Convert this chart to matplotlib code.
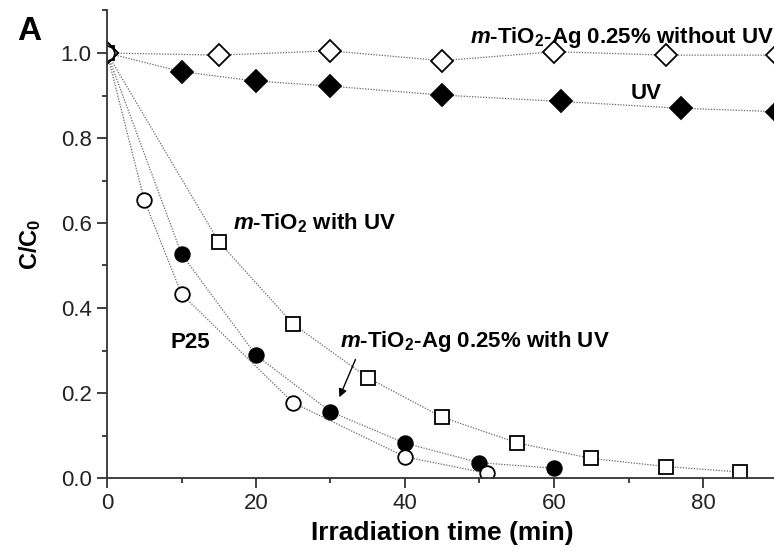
import numpy as np
import matplotlib
matplotlib.use("Agg")
import matplotlib.pyplot as plt
from matplotlib.ticker import MultipleLocator

plt.rcParams['font.family'] = ['Liberation Sans', 'DejaVu Sans']
plt.rcParams['mathtext.fontset'] = 'custom'
plt.rcParams['mathtext.rm'] = 'Liberation Sans:bold'
plt.rcParams['mathtext.it'] = 'Liberation Sans:bold:italic'
plt.rcParams['mathtext.bf'] = 'Liberation Sans:bold'

# dati letti dal grafico
# m-TiO2-Ag 0.25% senza UV (rombi vuoti)
t_dark = [0, 15, 30, 45, 60, 75, 90]
c_dark = [1.0, 0.995, 1.005, 0.982, 1.003, 0.995, 0.995]

# solo UV (rombi pieni)
t_uv = [0, 10, 20, 30, 45, 61, 77, 90]
c_uv = [1.0, 0.956, 0.934, 0.922, 0.901, 0.886, 0.870, 0.862]

# m-TiO2 con UV (quadrati)
t_mtio2 = [0, 15, 25, 35, 45, 55, 65, 75, 85]
c_mtio2 = [1.0, 0.556, 0.362, 0.236, 0.143, 0.083, 0.046, 0.027, 0.014]

# m-TiO2-Ag 0.25% con UV (cerchi pieni)
t_ag = [0, 10, 20, 30, 40, 50, 60]
c_ag = [1.0, 0.527, 0.289, 0.156, 0.082, 0.036, 0.023]

# P25 (cerchi vuoti)
t_p25 = [0, 5, 10, 25, 40, 51]
c_p25 = [1.0, 0.654, 0.433, 0.177, 0.050, 0.011]

fig = plt.figure(figsize=(7.74, 5.52), dpi=100)
W, H = 774, 552
ax = fig.add_axes([107 / W, 1 - 478 / H, (777.5 - 107) / W, (478 - 10.5) / H])

linea = dict(color='#666666', lw=0.9, linestyle=(0, (1, 1.2)))
mk = dict(markeredgecolor='black', markeredgewidth=1.3)

# prima i simboli pieni, poi quelli vuoti sopra
ax.plot(t_uv, c_uv, marker='D', markersize=11, markerfacecolor='black', **linea, **mk)
ax.plot(t_ag, c_ag, marker='o', markersize=10.5, markerfacecolor='black', **linea, **mk)
ax.plot(t_mtio2, c_mtio2, marker='s', markersize=10, markerfacecolor='white', **linea, **mk)
ax.plot(t_dark, c_dark, marker='D', markersize=11, markerfacecolor='white', **linea, **mk)
ax.plot(t_p25, c_p25, marker='o', markersize=10.5, markerfacecolor='white', **linea, **mk)

ax.set_xlim(0, 90)
ax.set_ylim(0, 1.1)

for s in ['top', 'right']:
    ax.spines[s].set_visible(False)
for s in ['left', 'bottom']:
    ax.spines[s].set_color('#333333')
    ax.spines[s].set_linewidth(1.3)

ax.xaxis.set_major_locator(MultipleLocator(20))
ax.xaxis.set_minor_locator(MultipleLocator(10))
ax.yaxis.set_major_locator(MultipleLocator(0.2))
ax.yaxis.set_minor_locator(MultipleLocator(0.1))
ax.set_yticks([0.0, 0.2, 0.4, 0.6, 0.8, 1.0])
ax.set_yticklabels(['0.0', '0.2', '0.4', '0.6', '0.8', '1.0'])
ax.tick_params(which='major', direction='out', length=7, width=1.3, color='#333333',
               labelsize=16, labelcolor='#222222', pad=4)
ax.tick_params(which='minor', direction='out', length=3.5, width=1.3, color='#333333')

ax.set_xlabel('Irradiation time (min)', fontsize=19, fontweight='bold')
ax.set_ylabel(r'C/C$_0$', fontsize=17, fontweight='bold')
ax.xaxis.set_label_coords(0.5, (478 - 533) / 467.5)
ax.xaxis.label.set_va('center')
ax.yaxis.set_label_coords((30 - 107) / 670.5, 0.5)
ax.yaxis.label.set_va('center')

# etichette delle curve
fs = 16
ax.text(48.7, 1.024, r'$m$-TiO$_2$-Ag 0.25% without UV', fontsize=fs, fontweight='bold', va='baseline')
ax.text(72.4, 0.905, 'UV', fontsize=fs, fontweight='bold', ha='center', va='center')
ax.text(16.9, 0.584, r'$m$-TiO$_2$ with UV', fontsize=fs, fontweight='bold', va='baseline')
ax.text(8.5, 0.306, 'P25', fontsize=fs, fontweight='bold', va='baseline')
ax.text(31.3, 0.3075, r'$m$-TiO$_2$-Ag 0.25% with UV', fontsize=fs, fontweight='bold', va='baseline')
ax.annotate('', xy=(31.05, 0.184), xytext=(33.5, 0.285),
            arrowprops=dict(arrowstyle='-|>', color='black', lw=1.0, mutation_scale=12))

fig.text(17 / W, 1 - 16 / H, 'A', fontsize=24, fontweight='bold', va='top', ha='left')

plt.savefig('out.png', dpi=100)
